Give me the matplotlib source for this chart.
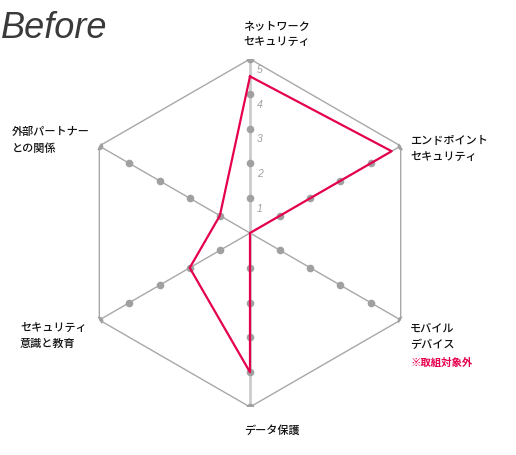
import numpy as np
import matplotlib
matplotlib.use("Agg")
import matplotlib.pyplot as plt

plt.rcParams['font.family'] = ['Noto Sans CJK JP', 'DejaVu Sans']

# axes, clockwise from the top
categories = ["ネットワーク\nセキュリティ", "エンドポイント\nセキュリティ", "モバイル\nデバイス",
              "データ保護", "セキュリティ\n意識と教育", "外部パートナー\nとの関係"]
scores = [4.5, 4.7, 0, 4, 2, 1]
levels = [1, 2, 3, 4, 5]
note = "※取組対象外"

W, H = 516, 455
fig = plt.figure(figsize=(W / 100, H / 100), dpi=100)

# polar axes: centre (250,233) px, radius 174 px
cx, cy, R = 250, 233, 174
ax = fig.add_axes([(cx - R) / W, (H - cy - R) / H, 2 * R / W, 2 * R / H], projection='polar')
ax.set_theta_offset(np.pi / 2)
ax.set_theta_direction(-1)
ax.set_ylim(0, 5)
ax.axis('off')

n = len(categories)
angles = np.arange(n) * 2 * np.pi / n

# outer hexagon
ax.plot(np.append(angles, angles[0]), [5] * (n + 1), color='#a8a8a8', lw=1, zorder=1)

# spokes + level dots
for i, a in enumerate(angles):
    if i in (0, 3):
        ax.plot([a, a], [0, 5], color='#cccccc', lw=2, zorder=1)
    else:
        ax.plot([a, a], [0, 5], color='#a8a8a8', lw=1, zorder=1)
    ax.plot([a] * len(levels), levels, 'o', color='#a0a0a0', ms=5.5, mec='none', zorder=2)

# level numbers on the top spoke
for lv in levels:
    ax.annotate(str(lv), (0, lv), xytext=(5, -10), textcoords='offset points',
                fontsize=7.5, style='italic', color='#a0a0a0', family='Liberation Sans')

# score line
ax.plot(np.append(angles, angles[0]), scores + [scores[0]], color='#e5004f', lw=1.6, zorder=3)

# labels (pixel positions)
label_pos = [(243, 34), (410, 149), (410, 337), (244, 430), (20, 336), (12, 140)]
for lab, (x, y) in zip(categories, label_pos):
    fig.text(x / W, 1 - y / H, lab, fontsize=8, fontweight='medium', va='center', ha='left',
             linespacing=1.75, color='#111111')
fig.text(410 / W, 1 - 363 / H, note, fontsize=7.5, fontweight='bold', color='#e5004f',
         va='center', ha='left')

fig.text(1 / W, 1 - 28 / H, "Before", fontsize=26, style='italic', color='#3a3a3a',
         family='Liberation Sans', va='center', ha='left')

fig.savefig("out.png", dpi=100)
